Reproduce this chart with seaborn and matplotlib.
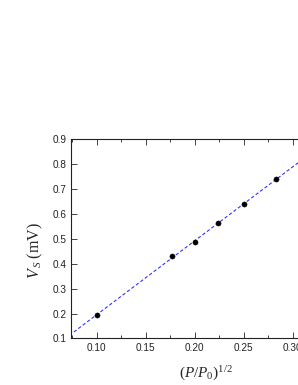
import numpy as np
import pandas as pd
import matplotlib
matplotlib.use('Agg')
import matplotlib.pyplot as plt
from matplotlib.ticker import MultipleLocator
import seaborn as sns

# Measured points
sqrt_p = [0.100, 0.177, 0.200, 0.2236, 0.250, 0.2828]
vs_mv = [0.194, 0.431, 0.488, 0.565, 0.640, 0.739]

sns.set_style("ticks")
plt.rcParams['font.family'] = ['Liberation Sans', 'DejaVu Sans']
plt.rcParams['mathtext.fontset'] = 'custom'
plt.rcParams['mathtext.rm'] = 'Liberation Serif'
plt.rcParams['mathtext.it'] = 'Liberation Serif:italic'

df = pd.DataFrame({"x": sqrt_p, "y": vs_mv})

# Linear fit
slope, intercept = np.polyfit(df["x"], df["y"], 1)
fit_x = np.array([0.0765, 0.32])
fit = pd.DataFrame({"x": fit_x, "y": slope * fit_x + intercept})

fig = plt.figure(figsize=(2.98, 3.85), dpi=100)
ax = fig.add_axes([0.238, 0.121, 0.782, 0.517])

sns.lineplot(data=fit, x="x", y="y", ax=ax, color='#3333ff', linestyle=(0, (3, 2)),
             linewidth=0.8)
sns.scatterplot(data=df, x="x", y="y", ax=ax, color='black', s=14, edgecolor='black',
                linewidth=0.3, zorder=3)

ax.set_xlim(0.0735, 0.3113)
ax.set_ylim(0.1, 0.9)
ax.xaxis.set_major_locator(MultipleLocator(0.05))
ax.xaxis.set_minor_locator(MultipleLocator(0.025))
ax.yaxis.set_major_locator(MultipleLocator(0.1))
ax.xaxis.set_major_formatter(plt.FormatStrFormatter('%.2f'))
ax.yaxis.set_major_formatter(plt.FormatStrFormatter('%.1f'))

ax.tick_params(which='both', direction='in', top=True, right=True, labelsize=7.2,
               width=0.6, colors='#222222')
ax.tick_params(which='major', length=4, pad=3)
ax.tick_params(which='minor', length=2)
for sp in ax.spines.values():
    sp.set_linewidth(0.8)
    sp.set_color('#222222')

ax.set_xlabel(r'$(P/P_0)^{1/2}$', fontsize=11)
ax.set_ylabel(r'$V_{\,S}\ \mathrm{(mV)}$', fontsize=11.5)
ax.xaxis.set_label_coords(0.58, -0.13)
ax.yaxis.set_label_coords(-0.11, 0.44)

fig.savefig('out.png', dpi=100)
